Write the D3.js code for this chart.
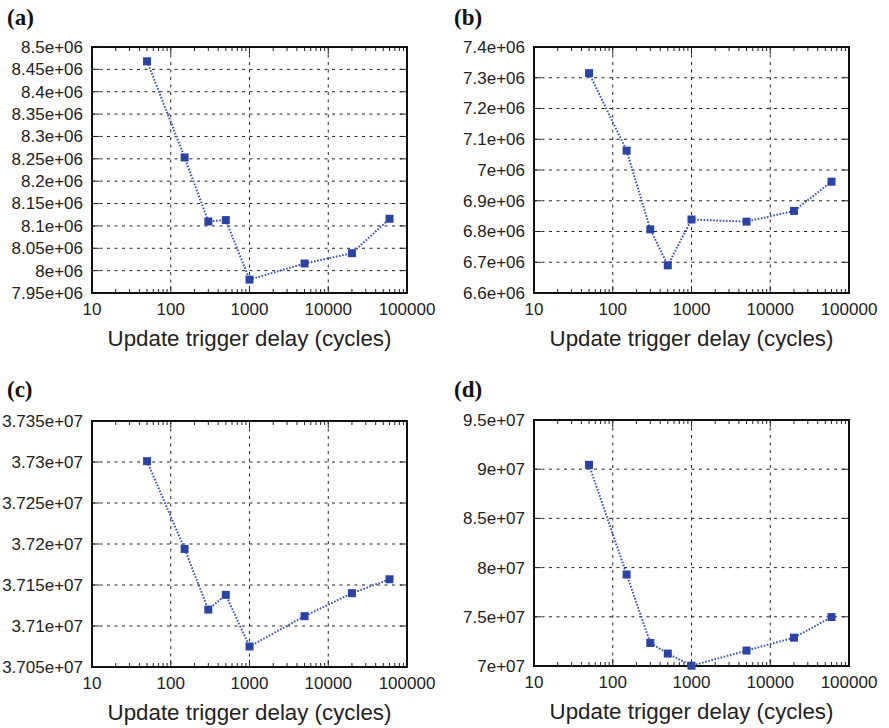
<!DOCTYPE html>
<html>
<head>
<meta charset="utf-8">
<script src="https://d3js.org/d3.v7.min.js"></script>
<style>
  body { margin: 0; background: #fff; }
  .tick-label { font-family: "Liberation Sans", Arial, sans-serif; font-size: 17px; fill: #222; }
  .axis-title { font-family: "Liberation Sans", Arial, sans-serif; font-size: 22.3px; fill: #222; }
  .panel-label { font-family: "Liberation Serif", "Times New Roman", serif; font-size: 23px; font-weight: bold; fill: #111; }
</style>
</head>
<body>
<svg id="chart" width="889" height="728"></svg>
<script>
// update trigger delay (cycles), same for all panels
var delays = [50, 150, 300, 500, 1000, 5000, 20000, 60000];
var xTicks = [10, 100, 1000, 10000, 100000];

var valuesA = [8.468e6, 8.253e6, 8.110e6, 8.113e6, 7.980e6, 8.016e6, 8.039e6, 8.116e6];
var valuesB = [7.315e6, 7.063e6, 6.807e6, 6.690e6, 6.839e6, 6.832e6, 6.867e6, 6.962e6];
var valuesC = [3.7301e7, 3.7194e7, 3.7120e7, 3.7138e7, 3.7075e7, 3.7112e7, 3.7140e7, 3.7157e7];
var valuesD = [9.044e7, 7.930e7, 7.234e7, 7.126e7, 7.003e7, 7.157e7, 7.288e7, 7.497e7];

var yTicksA = [7.95e6, 8e6, 8.05e6, 8.1e6, 8.15e6, 8.2e6, 8.25e6, 8.3e6, 8.35e6, 8.4e6, 8.45e6, 8.5e6];
var yTicksB = [6.6e6, 6.7e6, 6.8e6, 6.9e6, 7e6, 7.1e6, 7.2e6, 7.3e6, 7.4e6];
var yTicksC = [3.705e7, 3.71e7, 3.715e7, 3.72e7, 3.725e7, 3.73e7, 3.735e7];
var yTicksD = [7e7, 7.5e7, 8e7, 8.5e7, 9e7, 9.5e7];

var panels = [
  { label: "(a)", values: valuesA, ticks: yTicksA, left: 92, top: 47, lx: 7, ly: 25 },
  { label: "(b)", values: valuesB, ticks: yTicksB, left: 534, top: 47, lx: 454, ly: 25 },
  { label: "(c)", values: valuesC, ticks: yTicksC, left: 92, top: 421, lx: 7, ly: 397 },
  { label: "(d)", values: valuesD, ticks: yTicksD, left: 534, top: 420, lx: 454, ly: 397 }
];
var pw = 315, ph = 246;
var lineColor = "#3b52b0", markColor = "#2b43a3";

// gnuplot style %g labels: 8.5e+06
function fmt(v) {
  var s = v.toExponential(4).replace(/\.?0+e/, "e");
  return s.replace(/e([+-])(\d)$/, "e$10$2");
}

var svg = d3.select("#chart");

panels.forEach(function (p) {
  var pb = p.top + ph;
  var x = d3.scaleLog().domain([10, 100000]).range([p.left, p.left + pw]);
  var y = d3.scaleLinear().domain([p.ticks[0], p.ticks[p.ticks.length - 1]]).range([pb, p.top]);
  var g = svg.append("g");

  svg.append("text").attr("class", "panel-label")
    .attr("x", p.lx).attr("y", p.ly).text(p.label);

  // grid
  var grid = g.append("g").attr("stroke", "#222").attr("stroke-width", 1)
    .attr("stroke-dasharray", "3,4.5");
  grid.selectAll(".gx").data(xTicks.slice(1, -1)).enter().append("line")
    .attr("x1", d => x(d)).attr("x2", d => x(d))
    .attr("y1", p.top).attr("y2", pb);
  grid.selectAll(".gy").data(p.ticks.slice(1, -1)).enter().append("line")
    .attr("x1", p.left).attr("x2", p.left + pw)
    .attr("y1", d => y(d)).attr("y2", d => y(d));

  // minor log ticks (top and bottom, inward)
  var minor = [];
  xTicks.slice(0, -1).forEach(function (t) {
    for (var k = 2; k <= 9; k++) minor.push(t * k);
  });
  var tk = g.append("g").attr("stroke", "#222").attr("stroke-width", 1);
  minor.forEach(function (m) {
    tk.append("line").attr("x1", x(m)).attr("x2", x(m)).attr("y1", pb).attr("y2", pb - 4);
    tk.append("line").attr("x1", x(m)).attr("x2", x(m)).attr("y1", p.top).attr("y2", p.top + 4);
  });
  xTicks.forEach(function (t) {
    tk.append("line").attr("x1", x(t)).attr("x2", x(t)).attr("y1", pb).attr("y2", pb - 7);
    tk.append("line").attr("x1", x(t)).attr("x2", x(t)).attr("y1", p.top).attr("y2", p.top + 7);
  });
  p.ticks.forEach(function (t) {
    tk.append("line").attr("x1", p.left).attr("x2", p.left + 7).attr("y1", y(t)).attr("y2", y(t));
    tk.append("line").attr("x1", p.left + pw).attr("x2", p.left + pw - 7).attr("y1", y(t)).attr("y2", y(t));
  });

  // frame
  g.append("rect").attr("x", p.left).attr("y", p.top).attr("width", pw).attr("height", ph)
    .attr("fill", "none").attr("stroke", "#111").attr("stroke-width", 2);

  // tick labels
  g.selectAll(".xl").data(xTicks).enter().append("text").attr("class", "tick-label")
    .attr("x", d => x(d)).attr("y", pb + 22).attr("text-anchor", "middle")
    .text(d => d);
  g.selectAll(".yl").data(p.ticks).enter().append("text").attr("class", "tick-label")
    .attr("x", p.left - 9).attr("y", d => y(d)).attr("dy", "0.35em").attr("text-anchor", "end")
    .text(d => fmt(d));

  g.append("text").attr("class", "axis-title")
    .attr("x", p.left + pw / 2).attr("y", pb + 53).attr("text-anchor", "middle")
    .text("Update trigger delay (cycles)");

  // data line
  var pts = delays.map((d, i) => [d, p.values[i]]);
  g.append("path").datum(pts)
    .attr("fill", "none").attr("stroke", lineColor).attr("stroke-width", 2)
    .attr("stroke-dasharray", "1.6,1.6")
    .attr("d", d3.line().x(d => x(d[0])).y(d => y(d[1])));

  g.selectAll(".mk").data(pts).enter().append("rect")
    .attr("x", d => x(d[0]) - 4).attr("y", d => y(d[1]) - 4)
    .attr("width", 8).attr("height", 8).attr("fill", markColor);
});
</script>
</body>
</html>
